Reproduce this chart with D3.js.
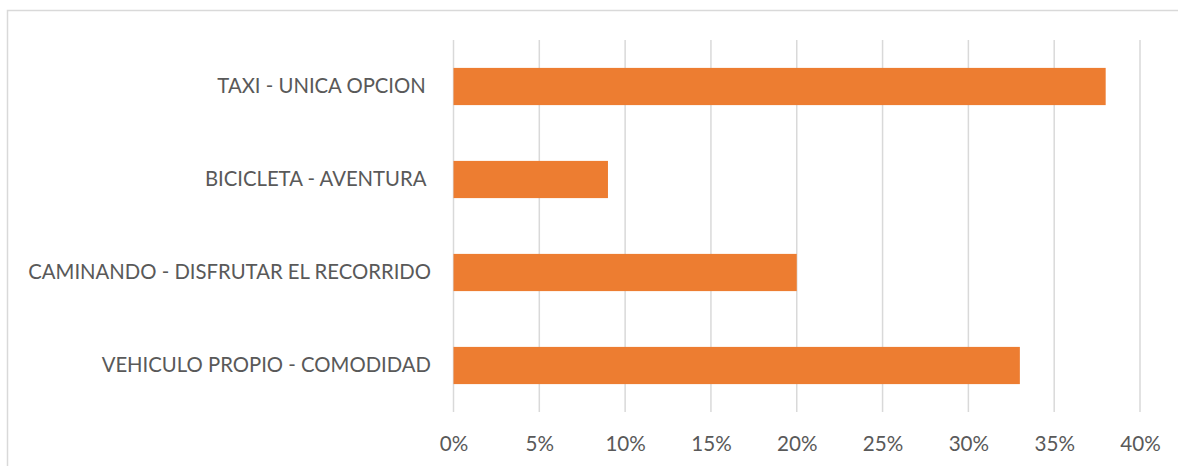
<!DOCTYPE html>
<html><head><meta charset="utf-8">
<script src="https://cdn.jsdelivr.net/npm/d3@7"></script>
<style>html,body{margin:0;padding:0;background:#fff;} svg{display:block;} text{white-space:pre;}</style>
</head><body>
<svg id="c" width="1178" height="466"></svg>
<script>
const categories = ["TAXI - UNICA OPCION ", "BICICLETA - AVENTURA ", "CAMINANDO - DISFRUTAR EL RECORRIDO", "VEHICULO PROPIO - COMODIDAD"];
const values = [0.38, 0.09, 0.20, 0.33];
const tickValues = [0, 0.05, 0.10, 0.15, 0.20, 0.25, 0.30, 0.35, 0.40];

const svg = d3.select("#c");
const FONT = "Lato, 'Open Sans', sans-serif";
const textColor = "#595959";
const gridColor = "#d9d9d9";

svg.append("rect").attr("x", 7.5).attr("y", 10.5).attr("width", 1200).attr("height", 500)
  .attr("fill", "none").attr("stroke", gridColor).attr("stroke-width", 1.5);

const x = d3.scaleLinear().domain([0, 0.4]).range([453.5, 1140]);
const y = d3.scaleBand().domain(categories).range([40, 412]).paddingInner(0.6).paddingOuter(0.3);

// measure for font sizing
const probe = svg.append("text").attr("font-family", FONT).attr("font-size", 20).text("CAMINANDO - DISFRUTAR EL RECORRIDO");
const w = probe.node().getComputedTextLength();
probe.remove();
const catSize = 20 * 403 / w;
const probe2 = svg.append("text").attr("font-family", FONT).attr("font-size", 20).text("10%");
const w2 = probe2.node().getComputedTextLength();
probe2.remove();
const tickSize = 20 * 40.5 / w2;

// gridlines
svg.append("g").selectAll("line").data(tickValues).join("line")
  .attr("x1", d => x(d)).attr("x2", d => x(d))
  .attr("y1", 40).attr("y2", 412)
  .attr("stroke", gridColor).attr("stroke-width", 1.5);

// bars
svg.append("g").selectAll("rect").data(categories).join("rect")
  .attr("x", x(0))
  .attr("y", d => y(d))
  .attr("width", (d, i) => x(values[i]) - x(0))
  .attr("height", y.bandwidth())
  .attr("fill", "#ED7D31");

// x axis labels
const xAxis = d3.axisBottom(x).tickValues(tickValues).tickFormat(d3.format(".0%")).tickSize(0).tickPadding(0);
const gx = svg.append("g").attr("transform", "translate(0,436)").call(xAxis);
gx.select(".domain").remove();
gx.selectAll("text").attr("font-family", FONT).attr("font-size", tickSize).attr("fill", textColor)
  .attr("dy", "0.71em").attr("y", 0);

// y axis labels
const yAxis = d3.axisLeft(y).tickSize(0).tickPadding(0);
const gy = svg.append("g").attr("transform", "translate(431,0)").call(yAxis);
gy.select(".domain").remove();
gy.selectAll("text").attr("font-family", FONT).attr("font-size", catSize).attr("fill", textColor)
  .style("white-space", "pre").attr("x", 0);
</script>
</body></html>
